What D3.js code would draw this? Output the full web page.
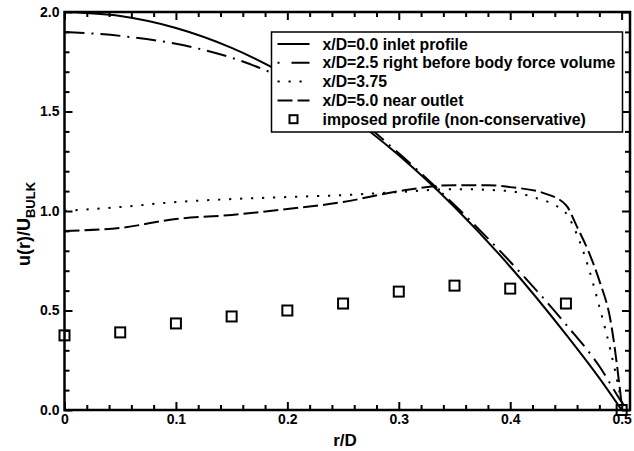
<!DOCTYPE html>
<html>
<head>
<meta charset="utf-8">
<script src="https://cdn.jsdelivr.net/npm/d3@7"></script>
<style>
  body { margin: 0; background: #fff; }
  text { font-family: "Liberation Sans", Arial, sans-serif; font-weight: bold; }
</style>
</head>
<body>
<div class="profile-plot"></div>
<script>
// radial positions r/D
const rInlet = [0, 0.05, 0.1, 0.15, 0.2, 0.25, 0.3, 0.35, 0.4, 0.45, 0.48, 0.5];
const uInlet = [2.0, 1.98, 1.92, 1.82, 1.68, 1.5, 1.28, 1.02, 0.72, 0.38, 0.16, 0.0];

const rBefore = [0, 0.05, 0.1, 0.15, 0.2, 0.25, 0.3, 0.35, 0.4, 0.45, 0.48, 0.5, 0.505];
const uBefore = [1.9, 1.88, 1.84, 1.77, 1.66, 1.52, 1.29, 1.03, 0.745, 0.43, 0.22, 0.04, 0.0];

const rMid = [0, 0.05, 0.1, 0.15, 0.2, 0.25, 0.3, 0.35, 0.4, 0.42, 0.44, 0.45, 0.46, 0.47, 0.48, 0.49, 0.5];
const uMid = [1.0, 1.02, 1.045, 1.06, 1.07, 1.08, 1.095, 1.11, 1.1, 1.07, 1.03, 0.99, 0.88, 0.72, 0.52, 0.3, 0.04];

const rOutlet = [0, 0.05, 0.1, 0.15, 0.2, 0.25, 0.3, 0.35, 0.38, 0.4, 0.43, 0.45, 0.46, 0.47, 0.48, 0.49, 0.5];
const uOutlet = [0.9, 0.915, 0.96, 0.98, 1.01, 1.045, 1.1, 1.13, 1.13, 1.12, 1.09, 1.03, 0.92, 0.8, 0.65, 0.45, 0.03];

const rImposed = [0, 0.05, 0.1, 0.15, 0.2, 0.25, 0.3, 0.35, 0.4, 0.45, 0.5];
const uImposed = [0.375, 0.39, 0.435, 0.47, 0.5, 0.535, 0.595, 0.625, 0.61, 0.535, 0.0];

const xTicks = [0, 0.1, 0.2, 0.3, 0.4, 0.5];
const xTickLabels = ["0", "0.1", "0.2", "0.3", "0.4", "0.5"];
const yTicks = [0, 0.5, 1.0, 1.5, 2.0];
const yTickLabels = ["0.0", "0.5", "1.0", "1.5", "2.0"];

const legendNames = [
  "x/D=0.0 inlet profile",
  "x/D=2.5 right before body force volume",
  "x/D=3.75",
  "x/D=5.0 near outlet",
  "imposed profile (non-conservative)"
];

const width = 634;
const height = 451;
const mLeft = 64.5, mRight = 630, mTop = 12, mBottom = 410;

const svg = d3.select('.profile-plot')
  .append('svg')
  .attr('width', width)
  .attr('height', height);

const x = d3.scaleLinear().domain([0, 0.5075]).range([mLeft, mRight]);
const y = d3.scaleLinear().domain([0, 2]).range([mBottom, mTop]);

const plot = svg.append('g');

function zip(rs, us) {
  return rs.map((r, i) => ({r: r, u: us[i]}));
}

const line = d3.line()
  .x(d => x(d.r))
  .y(d => y(d.u))
  .curve(d3.curveMonotoneX);

const series = [
  {data: zip(rInlet, uInlet), dash: null},
  {data: zip(rBefore, uBefore), dash: "20,7,2,7"},
  {data: zip(rMid, uMid), dash: "2.2,8.8"},
  {data: zip(rOutlet, uOutlet), dash: "15,5"}
];

plot.selectAll('path.curve')
  .data(series)
  .enter()
  .append('path')
  .attr('class', 'curve')
  .attr('d', d => line(d.data))
  .attr('fill', 'none')
  .attr('stroke', 'black')
  .attr('stroke-width', 2)
  .attr('stroke-dasharray', d => d.dash);

// imposed profile squares
plot.selectAll('rect.imposed')
  .data(zip(rImposed, uImposed))
  .enter()
  .append('rect')
  .attr('class', 'imposed')
  .attr('x', d => x(d.r) - 5)
  .attr('y', d => y(d.u) - 5)
  .attr('width', 10)
  .attr('height', 10)
  .attr('fill', 'none')
  .attr('stroke', 'black')
  .attr('stroke-width', 2);

// axes, ticks on all four sides pointing inward
const xMinor = d3.range(0, 0.5001, 0.02).filter(v => Math.abs(v * 10 - Math.round(v * 10)) > 1e-6);
const yMinor = d3.range(0, 2.0001, 0.1).filter(v => Math.abs(v * 2 - Math.round(v * 2)) > 1e-6);

svg.append('g')
  .attr('transform', `translate(0,${mBottom})`)
  .call(d3.axisBottom(x).tickValues(xTicks).tickFormat((d, i) => xTickLabels[i]).tickSize(-8).tickPadding(4));
svg.append('g')
  .attr('transform', `translate(0,${mBottom})`)
  .call(d3.axisBottom(x).tickValues(xMinor).tickFormat('').tickSize(-5));
svg.append('g')
  .attr('transform', `translate(0,${mTop})`)
  .call(d3.axisTop(x).tickValues(xTicks).tickFormat('').tickSize(-8));
svg.append('g')
  .attr('transform', `translate(0,${mTop})`)
  .call(d3.axisTop(x).tickValues(xMinor).tickFormat('').tickSize(-5));

svg.append('g')
  .attr('transform', `translate(${mLeft},0)`)
  .call(d3.axisLeft(y).tickValues(yTicks).tickFormat((d, i) => yTickLabels[i]).tickSize(-8).tickPadding(5));
svg.append('g')
  .attr('transform', `translate(${mLeft},0)`)
  .call(d3.axisLeft(y).tickValues(yMinor).tickFormat('').tickSize(-5));
svg.append('g')
  .attr('transform', `translate(${mRight},0)`)
  .call(d3.axisRight(y).tickValues(yTicks).tickFormat('').tickSize(-8));
svg.append('g')
  .attr('transform', `translate(${mRight},0)`)
  .call(d3.axisRight(y).tickValues(yMinor).tickFormat('').tickSize(-5));

svg.selectAll('.domain').remove();
svg.selectAll('.tick line').attr('stroke', 'black').attr('stroke-width', 2);
svg.selectAll('.tick text')
  .attr('font-size', '14px')
  .attr('font-family', '"Liberation Sans", Arial, sans-serif')
  .attr('font-weight', 'bold')
  .attr('fill', 'black');

// frame
svg.append('rect')
  .attr('x', mLeft)
  .attr('y', mTop)
  .attr('width', mRight - mLeft)
  .attr('height', mBottom - mTop)
  .attr('fill', 'none')
  .attr('stroke', 'black')
  .attr('stroke-width', 2.5);

// axis titles
svg.append('text')
  .attr('x', 345)
  .attr('y', 446)
  .attr('text-anchor', 'middle')
  .attr('font-size', '17px')
  .text('r/D');

const yTitle = svg.append('text')
  .attr('transform', 'translate(30,224) rotate(-90)')
  .attr('text-anchor', 'middle')
  .attr('font-size', '18px');
yTitle.append('tspan').text('u(r)/U');
yTitle.append('tspan').attr('font-size', '13px').attr('dy', 5).text('BULK');

// legend
const legend = svg.append('g').attr('transform', 'translate(271.5,32)');
legend.append('rect')
  .attr('width', 351)
  .attr('height', 100)
  .attr('fill', 'white')
  .attr('stroke', 'black')
  .attr('stroke-width', 1.5);

const legendItems = legend.selectAll('g.item')
  .data(legendNames)
  .enter()
  .append('g')
  .attr('class', 'item')
  .attr('transform', (d, i) => `translate(0,${12 + i * 18.8})`);

legendItems.filter((d, i) => i < 4)
  .append('line')
  .attr('x1', 6)
  .attr('x2', 38)
  .attr('stroke', 'black')
  .attr('stroke-width', 2)
  .attr('stroke-dasharray', (d, i) => [null, "2,12,18,100", "2.2,8.8", "15,5"][i]);

legendItems.filter((d, i) => i === 4)
  .append('rect')
  .attr('x', 18)
  .attr('y', -4)
  .attr('width', 8)
  .attr('height', 8)
  .attr('fill', 'none')
  .attr('stroke', 'black')
  .attr('stroke-width', 2);

legendItems.append('text')
  .attr('x', 51)
  .attr('y', 5.5)
  .attr('font-size', '15.8px')
  .text(d => d);
</script>
</body>
</html>
